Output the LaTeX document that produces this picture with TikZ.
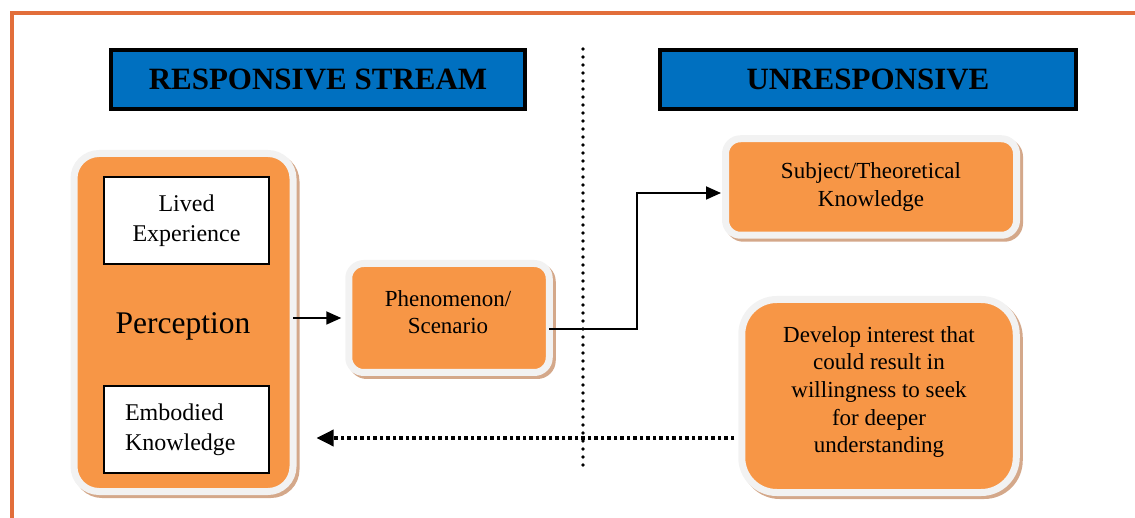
\documentclass[tikz,border=0pt]{standalone}
\usepackage{fontspec}
\setmainfont{Liberation Serif}
\usetikzlibrary{arrows.meta}
\definecolor{boxorange}{RGB}{247,150,70}
\definecolor{framegray}{RGB}{242,242,242}
\definecolor{shadowbrown}{RGB}{212,168,138}
\definecolor{hdrblue}{RGB}{0,112,192}
\definecolor{borderorange}{RGB}{226,110,58}
\begin{document}
\begin{tikzpicture}[x=1pt,y=-1pt,
  obox/.style={rectangle, fill=boxorange, draw=framegray, line width=7pt, inner sep=0pt,
    preaction={draw=shadowbrown, fill=shadowbrown, line width=7pt, transform canvas={shift={(3pt,-3pt)}}}},
  wbox/.style={rectangle, fill=white, draw=black, line width=1.5pt, inner sep=0pt,
    minimum width=165pt, minimum height=87pt, font=\fontsize{24pt}{30pt}\selectfont},
  bluebox/.style={rectangle, fill=hdrblue, draw=black, line width=4.5pt, inner sep=0pt,
    minimum height=59pt, font=\fontsize{31pt}{36pt}\selectfont\bfseries},
  txt/.style={font=\fontsize{23pt}{27.7pt}\selectfont, align=center, inner sep=0pt},
  arr/.style={line width=1.8pt, -{Triangle[length=15pt,width=13pt]}},
  dotarr/.style={line width=3.5pt, dash pattern=on 3.5pt off 3pt, -{Triangle[length=17pt,width=16pt]}},
  vdots/.style={line width=3.6pt, line cap=round, dash pattern=on 0pt off 8pt}
]
\useasboundingbox (0,0) rectangle (1135,518);
\clip (0,0) rectangle (1135,518);
% outer frame
\draw[borderorange, line width=4pt] (12,13) rectangle (1160,540);

% headers
\node[bluebox, minimum width=414pt] (hl) at (318,79.5) {RESPONSIVE STREAM};
\node[bluebox, minimum width=416pt] (hr) at (868,79.5) {UNRESPONSIVE};

% divider
\coordinate (vt) at (583,49);
\coordinate (vb) at (583,467);
\draw[vdots] (vt) -- (vb);

% Perception
\node[obox, rounded corners=25pt, minimum width=219pt, minimum height=338pt] (perc) at (183.5,322.5) {};
\node[font=\fontsize{31.5pt}{36pt}\selectfont, inner sep=0pt] (percT) at (183,326) {Perception};
\node[wbox, align=center] (lived) at (186.5,220.5) {Lived\\Experience};
\node[wbox, align=left, text width=123pt, inner xsep=21pt] (emb) at (186.5,429.5) {Embodied\\Knowledge};

% Phenomenon
\node[obox, rounded corners=15pt, minimum width=200.5pt, minimum height=109pt] (phen) at (449,318) {};
\node[txt] (phenT) at (448,312) {Phenomenon/\\Scenario};

% Subject
\node[obox, rounded corners=15pt, minimum width=291pt, minimum height=96.5pt] (subj) at (871,187) {};
\node[txt] (subjT) at (871,187) {Subject/Theoretical\\Knowledge};

% Develop
\node[obox, rounded corners=35pt, minimum width=274.5pt, minimum height=193pt] (dev) at (879,396) {};
\node[txt] (devT) at (879,392) {Develop interest that\\could result in\\willingness to seek\\for deeper\\understanding};

% connectors
\draw[arr, shorten <=-3.5pt, shorten >=4pt] ([yshift=4.5pt]perc.east) -- (phen.west);
\draw[arr, shorten <=-3.5pt, shorten >=1pt] ([yshift=-11pt]phen.east) -- ++(84,0) |- ([yshift=-6pt]subj.west);
\draw[dotarr, shorten <=4pt, shorten >=20pt] ([yshift=-42pt]dev.west) -- ([yshift=-42pt]dev.west -| perc.east);
\end{tikzpicture}
\end{document}
